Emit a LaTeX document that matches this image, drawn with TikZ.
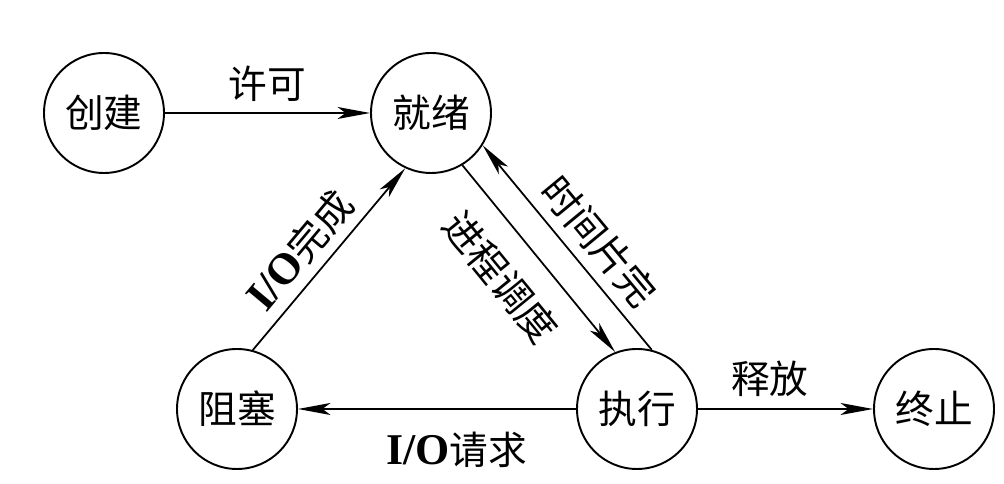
\documentclass[tikz,border=0pt]{standalone}
\usepackage{fontspec}
\setmainfont{Liberation Serif}
\newfontfamily\cjk{Noto Sans CJK SC}
\usepackage{tikz}
\usetikzlibrary{arrows.meta,positioning}
\newcommand{\io}{{\rmfamily\bfseries\fontsize{25}{25}\selectfont I/O}}

\begin{document}
\begin{tikzpicture}[
 state/.style={draw, circle, line width=1.1pt, minimum size=2.4cm, inner sep=0pt},
 trans/.style={-{Stealth[length=6.5mm, width=2.4mm, inset=1.6mm]}, line width=1pt},
 lbl/.style={inner sep=#1},
 font=\cjk\fontsize{22}{22}\selectfont
]
\useasboundingbox (0,0) rectangle (20.08,9.68);
\node[state] (cj) at (2.08,7.42) {创建};
\node[state] (jx) at (8.62,7.42) {就绪};
\node[state] (zs) at (4.74,1.50) {阻塞};
\node[state] (zx) at (12.74,1.50) {执行};
\node[state] (zz) at (18.68,1.50) {终止};

\draw[trans] (cj) -- node[lbl=0.22cm, above]{许可} (jx);
\draw[trans] (zs.75) -- node[lbl=0.18cm, pos=0.45, sloped, above]{\io 完成} (jx.245);
\draw[trans] (jx.-59) -- node[lbl=0.45cm, pos=0.46, sloped, below]{进程调度} (zx.111);
\draw[trans] (zx.76) -- node[lbl=0.2cm, pos=0.44, sloped, above]{时间片完} (jx.-32);
\draw[trans] (zx) -- node[lbl=0.45cm, pos=0.43, below]{\io 请求} (zs);
\draw[trans] (zx) -- node[lbl=0.22cm, pos=0.41, above]{释放} (zz);
\end{tikzpicture}
\end{document}
